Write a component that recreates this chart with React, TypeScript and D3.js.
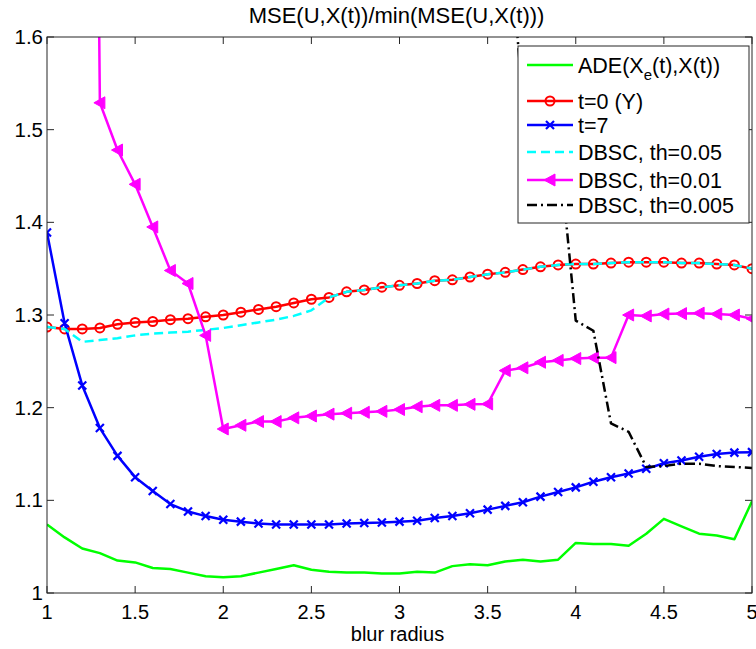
import React, { useEffect, useRef } from "react";
import * as d3 from "d3";

// blur radius grid (x axis)
const radius = [
  1.0, 1.1, 1.2, 1.3, 1.4, 1.5, 1.6, 1.7, 1.8, 1.9, 2.0,
  2.1, 2.2, 2.3, 2.4, 2.5, 2.6, 2.7, 2.8, 2.9, 3.0,
  3.1, 3.2, 3.3, 3.4, 3.5, 3.6, 3.7, 3.8, 3.9, 4.0,
  4.1, 4.2, 4.3, 4.4, 4.5, 4.6, 4.7, 4.8, 4.9, 5.0,
];

const ade = [
  1.074, 1.060, 1.048, 1.043, 1.035, 1.033, 1.027, 1.026, 1.022, 1.018, 1.017,
  1.018, 1.022, 1.026, 1.030, 1.025, 1.023, 1.022, 1.022, 1.021, 1.021,
  1.023, 1.022, 1.029, 1.031, 1.030, 1.034, 1.036, 1.034, 1.036, 1.054,
  1.053, 1.053, 1.051, 1.064, 1.080, 1.072, 1.064, 1.062, 1.058, 1.099,
];

const t0 = [
  1.287, 1.285, 1.285, 1.286, 1.290, 1.292, 1.293, 1.295, 1.296, 1.298, 1.300,
  1.303, 1.306, 1.309, 1.313, 1.317, 1.319, 1.325, 1.327, 1.330, 1.332,
  1.334, 1.337, 1.338, 1.341, 1.344, 1.346, 1.349, 1.352, 1.354, 1.355,
  1.355, 1.356, 1.357, 1.357, 1.357, 1.356, 1.356, 1.355, 1.354, 1.350,
];

const t7 = [
  1.389, 1.291, 1.224, 1.178, 1.148, 1.125, 1.110, 1.096, 1.088, 1.083, 1.079,
  1.077, 1.075, 1.074, 1.074, 1.074, 1.074, 1.075, 1.0755, 1.076, 1.077,
  1.078, 1.081, 1.083, 1.086, 1.090, 1.094, 1.098, 1.104, 1.109, 1.114,
  1.120, 1.125, 1.129, 1.134, 1.140, 1.143, 1.147, 1.150, 1.1515, 1.152,
];

const dbsc05 = [
  1.287, 1.285, 1.271, 1.273, 1.275, 1.278, 1.280, 1.281, 1.282, 1.284, 1.286,
  1.289, 1.292, 1.295, 1.299, 1.305, 1.319, 1.325, 1.327, 1.330, 1.332,
  1.334, 1.337, 1.338, 1.341, 1.344, 1.346, 1.349, 1.352, 1.354, 1.355,
  1.355, 1.356, 1.357, 1.357, 1.357, 1.356, 1.356, 1.355, 1.354, 1.350,
];

const dbsc01 = [
  null, null, 3.5, 1.529, 1.478, 1.441, 1.395, 1.348, 1.334, 1.278, 1.177,
  1.181, 1.185, 1.185, 1.189, 1.191, 1.193, 1.194, 1.195, 1.196, 1.198,
  1.201, 1.2025, 1.2025, 1.2036, 1.204, 1.240, 1.243, 1.249, 1.251, 1.253,
  1.254, 1.254, 1.300, 1.299, 1.301, 1.3015, 1.302, 1.301, 1.300, 1.296,
];

const dbsc005 = [
  null, null, null, null, null, null, null, null, null, null, null,
  null, null, null, null, null, null, null, null, null, null,
  null, null, null, null, null, 1.76, 1.53, 1.51, 1.49, 1.294,
  1.283, 1.183, 1.174, 1.136, 1.137, 1.1396, 1.1396, 1.137, 1.136, 1.135,
];

const xTicks = [1, 1.5, 2, 2.5, 3, 3.5, 4, 4.5, 5];
const yTicks = [1, 1.1, 1.2, 1.3, 1.4, 1.5, 1.6];

const series = [
  { name: "ade", values: ade, color: "#00ff00", dash: null, marker: null },
  { name: "t=0 (Y)", values: t0, color: "#ff0000", dash: null, marker: "o" },
  { name: "t=7", values: t7, color: "#0000ff", dash: null, marker: "x" },
  { name: "DBSC, th=0.05", values: dbsc05, color: "#00ffff", dash: "9,5", marker: null },
  { name: "DBSC, th=0.01", values: dbsc01, color: "#ff00ff", dash: null, marker: "<" },
  { name: "DBSC, th=0.005", values: dbsc005, color: "#000000", dash: "10,4,2,4", marker: null },
];

const FONT = "'Liberation Sans', Arial, Helvetica, sans-serif";

function drawMarker(g, type, color, x, y) {
  if (type === "o") {
    g.append("circle").attr("cx", x).attr("cy", y).attr("r", 4.5)
      .attr("fill", "none").attr("stroke", color).attr("stroke-width", 2);
  } else if (type === "x") {
    const s = 4;
    g.append("path")
      .attr("d", `M${x - s},${y - s}L${x + s},${y + s}M${x - s},${y + s}L${x + s},${y - s}`)
      .attr("stroke", color).attr("stroke-width", 2.2).attr("fill", "none");
  } else if (type === "<") {
    g.append("path")
      .attr("d", `M${x - 6},${y}L${x + 5},${y - 6}L${x + 5},${y + 6}Z`)
      .attr("fill", color).attr("stroke", color).attr("stroke-width", 1);
  }
}

function App() {
  const ref = useRef(null);

  useEffect(() => {
    const width = 756;
    const height = 649;
    const margin = { top: 37, left: 47, right: 4, bottom: 56 };
    const iwidth = width - margin.left - margin.right;
    const iheight = height - margin.top - margin.bottom;

    const svg = d3.select(ref.current);
    svg.selectAll("*").remove();

    const x = d3.scaleLinear().domain([1, 5]).range([0, iwidth]);
    const y = d3.scaleLinear().domain([1, 1.6]).range([iheight, 0]);

    svg.append("rect").attr("width", width).attr("height", height).attr("fill", "#fff");

    const g = svg.append("g").attr("transform", `translate(${margin.left},${margin.top})`);

    g.append("clipPath").attr("id", "plotclip")
      .append("rect").attr("width", iwidth).attr("height", iheight);

    // ticks inside, on all four sides
    const tickLen = 7;
    const axisColor = "#262626";
    xTicks.forEach((t) => {
      g.append("line").attr("x1", x(t)).attr("x2", x(t)).attr("y1", iheight).attr("y2", iheight - tickLen)
        .attr("stroke", axisColor);
      g.append("line").attr("x1", x(t)).attr("x2", x(t)).attr("y1", 0).attr("y2", tickLen)
        .attr("stroke", axisColor);
      g.append("text").attr("x", x(t)).attr("y", iheight + 26)
        .attr("text-anchor", "middle").attr("font-family", FONT).attr("font-size", 20)
        .text(d3.format("~g")(t));
    });
    yTicks.forEach((t) => {
      g.append("line").attr("x1", 0).attr("x2", tickLen).attr("y1", y(t)).attr("y2", y(t))
        .attr("stroke", axisColor);
      g.append("line").attr("x1", iwidth).attr("x2", iwidth - tickLen).attr("y1", y(t)).attr("y2", y(t))
        .attr("stroke", axisColor);
      g.append("text").attr("x", -4).attr("y", y(t) + 7)
        .attr("text-anchor", "end").attr("font-family", FONT).attr("font-size", 20.5)
        .text(d3.format("~g")(t));
    });

    const plot = g.append("g").attr("clip-path", "url(#plotclip)");

    series.forEach((s) => {
      const pts = radius.map((r, i) => [r, s.values[i]]);
      const line = d3.line()
        .defined((d) => d[1] != null)
        .x((d) => x(d[0]))
        .y((d) => y(d[1]));
      plot.append("path")
        .attr("d", line(pts))
        .attr("fill", "none")
        .attr("stroke", s.color)
        .attr("stroke-width", 2.5)
        .attr("stroke-dasharray", s.dash)
        .attr("stroke-linejoin", "round");
      if (s.marker) {
        const mg = plot.append("g");
        pts.filter((d) => d[1] != null).forEach((d) => drawMarker(mg, s.marker, s.color, x(d[0]), y(d[1])));
      }
    });

    // frame
    g.append("rect").attr("width", iwidth).attr("height", iheight)
      .attr("fill", "none").attr("stroke", axisColor).attr("stroke-width", 1);

    // title and x label
    svg.append("text").attr("x", margin.left + iwidth / 2 - 3).attr("y", 23)
      .attr("text-anchor", "middle").attr("font-family", FONT).attr("font-size", 22)
      .text("MSE(U,X(t))/min(MSE(U,X(t)))");
    svg.append("text").attr("x", margin.left + iwidth / 2 - 2).attr("y", 641)
      .attr("text-anchor", "middle").attr("font-family", FONT).attr("font-size", 20)
      .text("blur radius");

    // legend
    const lg = svg.append("g").attr("transform", "translate(518,46)");
    lg.append("rect").attr("width", 231).attr("height", 177)
      .attr("fill", "#fff").attr("stroke", axisColor).attr("stroke-width", 1);
    const rowY = [19, 55, 79, 106, 134, 159];
    series.forEach((s, i) => {
      const ry = rowY[i];
      lg.append("line").attr("x1", 9).attr("x2", 55).attr("y1", ry).attr("y2", ry)
        .attr("stroke", s.color).attr("stroke-width", 2.5).attr("stroke-dasharray", s.dash);
      if (s.marker) drawMarker(lg, s.marker, s.color, 32, ry);
      const t = lg.append("text").attr("x", 60).attr("y", ry + 7.5)
        .attr("font-family", FONT).attr("font-size", 21.5);
      if (s.name === "ade") {
        t.append("tspan").text("ADE(X");
        t.append("tspan").attr("font-size", 15).attr("dy", 7).text("e");
        t.append("tspan").attr("dy", -7).text("(t),X(t))");
      } else {
        t.text(s.name);
      }
    });
  }, []);

  return (
    <svg ref={ref} width={756} height={649}
      style={{ position: "absolute", left: 0, top: 0, display: "block" }} />
  );
}

export default App;
